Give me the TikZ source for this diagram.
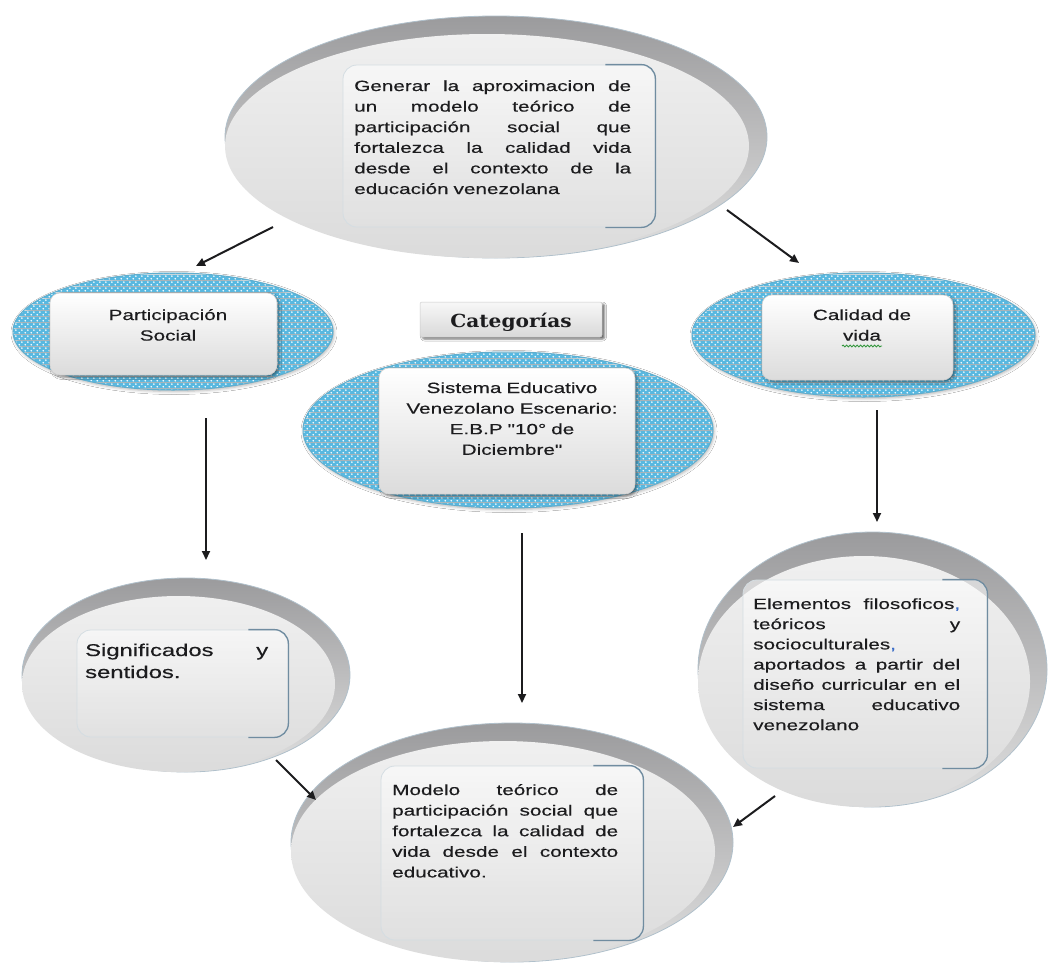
\documentclass[tikz,border=0pt]{standalone}
\usepackage{fontspec}
\newfontfamily\bodyfont{Liberation Sans}[FakeStretch=1.4,FakeBold=0.35]
\newfontfamily\catfont{DejaVu Serif}[FakeStretch=1.12]
\usetikzlibrary{shapes.geometric,arrows.meta,patterns.meta,shadows.blur,decorations.pathmorphing}

\definecolor{ink}{RGB}{28,28,30}
\definecolor{meshblue}{RGB}{88,184,224}
\definecolor{rimgray}{RGB}{155,155,157}
\definecolor{edgeblue}{RGB}{112,140,160}
\definecolor{commablue}{RGB}{60,110,200}
\definecolor{spellgreen}{RGB}{50,150,60}

% light blue mesh used inside the category ellipses
\tikzdeclarepattern{
  name=bluemesh, type=colored,
  bottom left={(0pt,0pt)}, top right={(6pt,6pt)}, tile size={(6pt,6pt)},
  code={
    \fill[meshblue] (0pt,0pt) rectangle (6pt,6pt);
    \fill[white] (1.5pt,1.5pt) circle (1.05pt);
    \fill[white] (4.5pt,4.5pt) circle (1.05pt);
  }}

% one justified line of a paragraph, words spread over the width \jw
\newlength\jw
\newcommand\jline[1]{\leavevmode\hbox to\jw{\spreadwords#1 \relax}\\}
\def\spreadwords#1 #2\relax{#1\if\relax\detokenize{#2}\relax\else\hfill\spreadwords#2\relax\fi}

\tikzset{
  rim/.style={ellipse, inner sep=0pt, draw=edgeblue!55, line width=0.8pt,
    top color=rimgray, bottom color=gray!25},
  face/.style={ellipse, inner sep=0pt, top color=gray!12, middle color=white,
    bottom color=gray!28},
  pane/.style={rectangle, rounded corners=14pt, inner sep=0pt,
    top color=white, bottom color=gray!22, fill opacity=0.55,
    draw=edgeblue!30, line width=0.8pt},
  paneedge/.style={draw=edgeblue, line width=1.3pt, rounded corners=14pt},
  mesh/.style={ellipse, inner sep=0pt, pattern=bluemesh, draw=meshblue!80!gray,
    line width=1pt,
    blur shadow={shadow xshift=1pt, shadow yshift=-1.5pt,
      shadow blur radius=3pt, shadow opacity=30}},
  card/.style={rectangle, rounded corners=10pt, inner sep=0pt,
    top color=white, bottom color=gray!28, draw=gray!35, line width=0.6pt,
    blur shadow={shadow xshift=2pt, shadow yshift=-2pt,
      shadow blur radius=2.5pt, shadow opacity=45}},
  catbox/.style={rectangle, rounded corners=2pt, inner sep=0pt,
    top color=gray!6, bottom color=gray!30, draw=gray!40, line width=0.5pt,
    blur shadow={shadow xshift=2.5pt, shadow yshift=-2pt,
      shadow blur radius=2pt, shadow opacity=60}},
  txt/.style={inner sep=0pt, text=ink,
    font=\bodyfont\fontsize{14.8}{20.6}\selectfont},
  arr/.style={draw=ink, line width=2pt, -{Triangle[length=9pt,width=8pt]}},
}

\begin{document}
\begin{tikzpicture}[x=1pt, y=-1pt]
\useasboundingbox (0,0) rectangle (1048,964);
\fill[white] (0,0) rectangle (1048,964);

% ---------- objective (top) ----------
\node[rim,  minimum width=542pt, minimum height=242pt] (goalrim)  at (496,137) {};
\node[face, minimum width=524pt, minimum height=224pt] (goalface) at (487,146) {};
\node[pane, minimum width=312pt, minimum height=162pt] (goalpane) at (499,146) {};
\draw[paneedge] ([xshift=-50pt]goalpane.north east) -- (goalpane.north east)
  -- (goalpane.south east) -- ([xshift=-50pt]goalpane.south east);
\node[txt, text width=277pt, align=left, anchor=base west] (goaltext) at (354,91) {%
\setlength\jw{277pt}%
\jline{Generar la aproximacion de}
\jline{un modelo teórico de}
\jline{participación social que}
\jline{fortalezca la calidad vida}
\jline{desde el contexto de la}
educación venezolana};

% ---------- categories ----------
\node[mesh, minimum width=320pt, minimum height=117pt] (socmesh) at (173,331.5) {};
\node[card, minimum width=227pt, minimum height=82pt] (soccard) at (163.5,334) {};
\node[txt, text width=227pt, align=center, anchor=base] (soctext) at (168,320)
  {Participación\\Social};

\node[catbox, minimum width=182pt, minimum height=35pt] (catbox) at (511,319.5) {};
\node[inner sep=0pt, text=ink, anchor=base,
  font=\catfont\bfseries\fontsize{18}{20}\selectfont] (cattext) at (511,327) {Categorías};

\node[mesh, minimum width=410pt, minimum height=156pt] (sysmesh) at (508,430) {};
\node[card, minimum width=256pt, minimum height=126pt] (syscard) at (507,431) {};
\node[txt, text width=256pt, align=center, anchor=base] (systext) at (512,393)
  {Sistema Educativo\\Venezolano Escenario:\\E.B.P "10° de\\Diciembre"};

\node[mesh, minimum width=343pt, minimum height=124pt] (lifemesh) at (863.5,335) {};
\node[card, minimum width=191pt, minimum height=85pt] (lifecard) at (857.5,337.5) {};
\node[txt, text width=191pt, align=center, anchor=base] (lifetext) at (862,320)
  {Calidad de\\vida};
\draw[decorate, decoration={snake, amplitude=0.9pt, segment length=3.5pt},
  draw=spellgreen, line width=0.9pt] (842,346) -- (882,346);

% ---------- meanings (bottom left) ----------
\node[rim,  minimum width=328pt, minimum height=194pt] (senserim)  at (186,675) {};
\node[face, minimum width=313pt, minimum height=176pt] (senseface) at (178.5,684) {};
\node[pane, minimum width=211pt, minimum height=107pt] (sensepane) at (182.5,683.5) {};
\draw[paneedge] ([xshift=-40pt]sensepane.north east) -- (sensepane.north east)
  -- (sensepane.south east) -- ([xshift=-40pt]sensepane.south east);
\node[txt, text width=183pt, align=left, anchor=base west,
  font=\bodyfont\fontsize{17}{22}\selectfont] (sensetext) at (85,656) {%
\setlength\jw{183pt}%
\jline{Significados y}
sentidos.};

% ---------- curricular elements (bottom right) ----------
\node[rim,  minimum width=349pt, minimum height=275pt] (elemrim)  at (872.5,669.5) {};
\node[face, minimum width=332pt, minimum height=251pt] (elemface) at (864,681.5) {};
\node[pane, minimum width=244pt, minimum height=188pt] (elempane) at (865,674) {};
\draw[paneedge] ([xshift=-45pt]elempane.north east) -- (elempane.north east)
  -- (elempane.south east) -- ([xshift=-45pt]elempane.south east);
\node[txt, text width=207pt, align=left, anchor=base west, font=\bodyfont\fontsize{14.8}{20.2}\selectfont]
  (elemtext) at (753,609) {%
\setlength\jw{207pt}%
\jline{Elementos filosoficos\textcolor{commablue}{,}}
\jline{teóricos y}
socioculturales\textcolor{commablue}{,}\\
\jline{aportados a partir del}
\jline{diseño curricular en el}
\jline{sistema educativo}
venezolano};

% ---------- model (bottom centre) ----------
\node[rim,  minimum width=442pt, minimum height=239pt] (modelrim)  at (512,842.5) {};
\node[face, minimum width=424pt, minimum height=221pt] (modelface) at (503,851.5) {};
\node[pane, minimum width=262pt, minimum height=174pt] (modelpane) at (512,853) {};
\draw[paneedge] ([xshift=-50pt]modelpane.north east) -- (modelpane.north east)
  -- (modelpane.south east) -- ([xshift=-50pt]modelpane.south east);
\node[txt, text width=226pt, align=left, anchor=base west] (modeltext) at (392,795) {%
\setlength\jw{226pt}%
\jline{Modelo teórico de}
\jline{participación social que}
\jline{fortalezca la calidad de}
\jline{vida desde el contexto}
educativo.};

% ---------- arrows ----------
\coordinate (a1s) at (273,227); \coordinate (a1e) at (196,266);
\coordinate (a2s) at (727,210); \coordinate (a2e) at (799,263);
\coordinate (a3s) at (206,418); \coordinate (a3e) at (206,560);
\coordinate (a4s) at (522,533); \coordinate (a4e) at (522,703);
\coordinate (a5s) at (877,410); \coordinate (a5e) at (877,522);
\coordinate (a6s) at (276,760); \coordinate (a6e) at (316,800);
\coordinate (a7s) at (775,796); \coordinate (a7e) at (733,827);
\foreach \k in {1,...,7} \draw[arr] (a\k s) -- (a\k e);
\end{tikzpicture}
\end{document}
